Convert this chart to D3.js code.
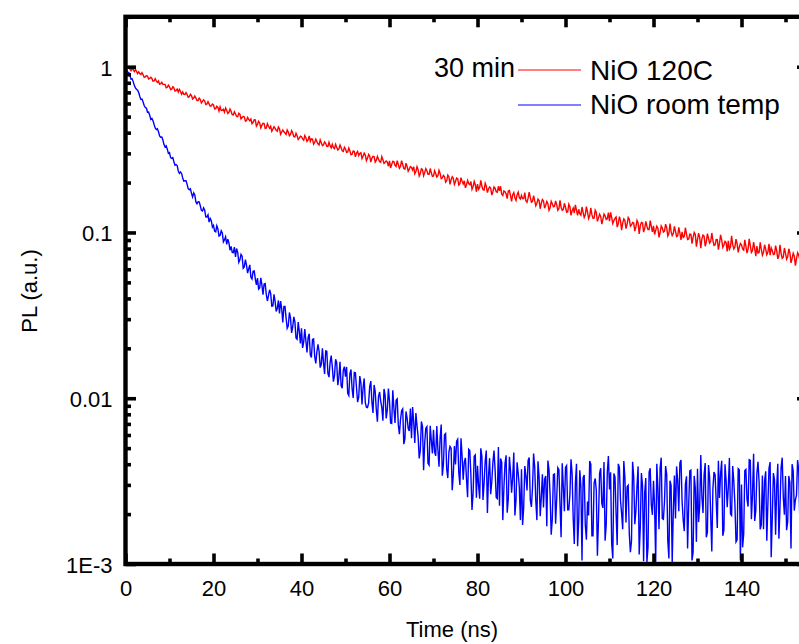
<!DOCTYPE html>
<html><head><meta charset="utf-8">
<script src="https://cdn.jsdelivr.net/npm/d3@7"></script>
<style>html,body{margin:0;padding:0;background:#fff}</style>
</head><body>
<svg id="chart" width="799" height="644"></svg>
<script>
// ---------- data ----------
const timeStep = 0.25; // ns between samples, series start at t = 0
const redName = "NiO 120C";
const blueName = "NiO room temp";
const annotationText = "30 min";
const xTitle = "Time (ns)";
const yTitle = "PL (a.u.)";
const xTicksMajor = [0, 20, 40, 60, 80, 100, 120, 140];
const xTicksMinor = [10, 30, 50, 70, 90, 110, 130, 150];
const yTicksMajor = [1, 0.1, 0.01, 0.001];
const yTickLabels = ["1", "0.1", "0.01", "1E-3"];
const yTicksMinor = [
  0.002,0.003,0.004,0.005,0.006,0.007,0.008,0.009,
  0.02,0.03,0.04,0.05,0.06,0.07,0.08,0.09,
  0.2,0.3,0.4,0.5,0.6,0.7,0.8,0.9,
  2];

const redValues = [
1.000,.978,.995,.990,.967,.945,.970,.961,.935,.963,.937,.909,.932,.908,.898,.920,.895,.863,.869,.884,
.876,.843,.850,.863,.849,.817,.820,.847,.822,.804,.820,.784,.790,.805,.783,.782,.782,.746,.751,.774,
.757,.728,.732,.756,.744,.713,.720,.732,.703,.730,.709,.682,.705,.681,.680,.697,.679,.654,.659,.681,
.669,.638,.646,.665,.646,.625,.625,.646,.634,.604,.617,.631,.621,.591,.595,.615,.597,.578,.581,.595,
.588,.557,.559,.578,.568,.539,.572,.544,.546,.554,.532,.564,.546,.523,.531,.555,.538,.514,.512,.535,
.518,.501,.499,.524,.516,.484,.494,.502,.498,.469,.474,.494,.481,.472,.483,.453,.462,.478,.477,.438,
.448,.468,.458,.427,.444,.456,.454,.424,.427,.453,.437,.425,.437,.408,.420,.435,.425,.414,.408,.433,
.422,.391,.404,.416,.405,.398,.390,.415,.403,.383,.390,.411,.399,.378,.377,.397,.383,.364,.371,.381,
.378,.367,.360,.384,.373,.354,.361,.382,.354,.367,.366,.341,.349,.365,.353,.343,.337,.362,.348,.334,
.338,.352,.345,.331,.330,.350,.334,.324,.340,.325,.320,.340,.327,.314,.319,.337,.325,.311,.308,.327,
.319,.304,.306,.323,.310,.294,.296,.310,.308,.286,.301,.308,.291,.300,.303,.279,.289,.301,.293,.271,
.280,.296,.289,.266,.281,.288,.287,.266,.273,.288,.277,.268,.265,.287,.275,.261,.265,.270,.266,.251,
.270,.245,.257,.269,.268,.254,.250,.271,.257,.244,.251,.271,.257,.243,.241,.262,.250,.234,.241,.250,
.247,.238,.249,.226,.233,.249,.239,.219,.227,.242,.239,.220,.230,.243,.236,.224,.224,.243,.229,.218,
.219,.236,.227,.216,.220,.237,.227,.211,.213,.221,.217,.201,.205,.222,.217,.195,.208,.217,.212,.195,
.203,.213,.211,.193,.197,.214,.204,.196,.205,.186,.194,.206,.197,.194,.203,.182,.189,.203,.194,.176,
.196,.182,.187,.206,.190,.181,.180,.198,.190,.174,.183,.188,.185,.168,.176,.188,.185,.176,.175,.190,
.178,.190,.170,.167,.178,.176,.171,.160,.178,.179,.167,.154,.169,.174,.162,.156,.169,.175,.162,.159,
.167,.160,.160,.174,.155,.152,.161,.175,.163,.152,.154,.167,.155,.145,.150,.159,.156,.139,.150,.158,
.155,.140,.146,.154,.149,.136,.141,.154,.149,.143,.144,.155,.147,.136,.139,.156,.142,.136,.138,.150,
.142,.1327,.133,.1481,.143,.1269,.135,.1402,.131,.1467,.136,.1270,.138,.1297,.127,.1425,.132,.1232,.128,.1431,
.133,.1213,.126,.1409,.128,.1217,.122,.1362,.132,.1167,.122,.1289,.125,.1123,.120,.1290,.126,.1199,.121,.1317,
.117,.1322,.123,.1132,.118,.1217,.124,.1078,.113,.1246,.118,.1034,.114,.1207,.118,.1055,.112,.1231,.120,.1092,
.111,.1150,.114,.1019,.108,.1182,.114,.0981,.110,.1150,.114,.1005,.106,.1166,.109,.1040,.104,.1180,.109,.1009,
.1096,.0972,.1030,.1092,.1060,.0935,.0996,.1095,.1063,.1006,.1020,.1123,.1068,.0953,.0985,.1133,.1012,.0957,.0984,.1087,
.1017,.0944,.0953,.1073,.0990,.0901,.1007,.0934,.0947,.1068,.0978,.0906,.0913,.0977,.0975,.0856,.0935,.1001,.0973,.0822,
.0905,.0991,.0934,.0805,.0916,.0964,.0951,.0826,.0877,.0983,.0923,.0862,.0881,.0993,.0896,.0835,.0843,.0906,.0905,.0788,
.0862,.0968,.0900,.0814,.0841,.0883,.0868,.0768,.0889,.0792,.0820,.0953,.0844,.0796,.0818,.0912,.0856,.0758,.0817,.0858,
.0841,.0796,.0783,.0902,.0826,.0751,.0797,.0914,.0832,.0757,.0777,.0875,.0799,.0720,.0827,.0752,.0756,.0873,.0791,.0729,
.0758,.0843,.0794,.0734,.0761,.0853,.0730,.0808,.0776,.0736,.0742,.0832,.0777,.0693,.0723,.0842,.0747,.0698,.0710,.0806,
.0751,.0690,.0714,.0797,.0753,.0656,.0697,.0749,.0719,.0630,.0694,.0754,.0730,.0685,.0694,.0776,.0670,.0746,.0708,.0599,
.0683];

const blueValues = [
1.000,.958,.926,.924,.887,.842,.845,.813,.772,.745,.731,.722,.698,.661,.634,.637,.612,.583,.567,.563,
.531,.532,.510,.481,.488,.472,.448,.427,.418,.422,.405,.382,.375,.376,.361,.339,.328,.333,.318,.300,
.303,.283,.280,.283,.267,.2545,.257,.2535,.235,.227,.232,.227,.213,.204,.205,.205,.195,.1836,.181,.1836,
.1722,.1638,.1735,.1685,.1528,.1488,.1532,.1530,.1450,.1360,.1348,.1407,.1361,.1243,.1240,.1278,.1155,.1215,.1179,.1077,
.1104,.1018,.1008,.1097,.1050,.0950,.0960,.1024,.0992,.0877,.0905,.0942,.0847,.0912,.0867,.0781,.0825,.0758,.0756,.0816,
.0713,.0800,.0759,.0660,.0684,.0737,.0719,.0609,.0620,.0685,.0636,.0568,.0603,.0637,.0537,.0524,.0583,.0586,.0525,.0483,
.0531,.0455,.0463,.0533,.0483,.0421,.0489,.0492,.0421,.0386,.0417,.0451,.0427,.0359,.0360,.0424,.0384,.0334,.0349,.0389,
.0325,.0385,.0347,.0287,.0358,.0358,.0304,.0264,.0273,.0329,.0305,.0248,.0269,.0310,.0289,.0231,.0227,.0288,.0253,.0214,
.0264,.0201,.0219,.0261,.0222,.0189,.0232,.0245,.0183,.0176,.0226,.0228,.0179,.0162,.0191,.0211,.0192,.0153,.0160,.0200,
.0164,.0140,.0193,.0192,.0141,.0134,.0164,.0181,.0155,.0126,.0137,.0172,.0164,.0120,.0134,.0166,.0119,.0115,.0148,.0155,
.0135,.01545,.0107,.01038,.0141,.0149,.0114,.01003,.0143,.01423,.0116,.00948,.0101,.01359,.0124,.00918,.0116,.01317,.0094,.00884,
.00879,.00934,.01176,.01268,.00951,.00814,.01203,.01097,.00854,.00722,.01024,.01090,.00961,.00881,.00732,.01137,.01044,.00755,.00850,.01144,
.00960,.00709,.00705,.01115,.00870,.00709,.00972,.00990,.00693,.00606,.00742,.00841,.00862,.00528,.00569,.00832,.00760,.00657,.00635,.00866,
.00573,.00884,.00722,.00537,.00814,.00683,.00591,.00433,.00483,.00724,.00675,.00368,.00537,.00659,.00674,.00405,.00395,.00681,.00558,.00465,
.00646,.00475,.00449,.00679,.00492,.00386,.00576,.00693,.00341,.00398,.00602,.00612,.00375,.00330,.00473,.00512,.00500,.00279,.00344,.00515,
.00398,.00551,.00566,.00355,.00300,.00573,.00448,.00322,.00413,.00437,.00325,.00253,.00492,.00484,.00343,.00212,.00268,.00447,.00455,.00251,
.00391,.00297,.00248,.00499,.00447,.00243,.00308,.00419,.00483,.00203,.00337,.00435,.00264,.00315,.00409,.00483,.00371,.00252,.00248,.00508,
.00225,.00433,.00412,.00184,.00287,.00403,.00453,.00204,.00247,.00444,.00365,.00269,.00334,.00471,.00196,.00243,.00411,.00353,.00291,.00184,
.00373,.00172,.00220,.00390,.00340,.00278,.00422,.00439,.00243,.00221,.00288,.00464,.00385,.00239,.00184,.00416,.00335,.00194,.00252,.00348,
.00219,.00325,.00340,.00169,.00421,.00371,.00261,.00150,.00186,.00346,.00349,.00175,.00247,.00381,.00371,.00231,.00145,.00405,.00295,.00208,
.00382,.00392,.00212,.00212,.00262,.00428,.00352,.00188,.00132,.00308,.00402,.00128,.00182,.00368,.00292,.00105,.00332,.00344,.00172,.00140,
.00238,.00196,.00418,.00400,.00148,.00148,.00308,.00328,.00278,.00112,.00188,.00352,.00378,.00232,.00218,.00412,.00138,.00172,.00358,.00448,
.00282,.00358,.00132,.00108,.00352,.00334,.00202,.00130,.00402,.00382,.00242,.00202,.00162,.00418,.00332,.00178,.00292,.00298,.00152,.00118,
.00138,.00414,.00338,.00174,.00208,.00294,.00388,.00114,.00168,.00354,.00298,.00104,.00268,.00330,.00103,.00126,.00358,.00378,.00228,.00198,
.00318,.00222,.00103,.00402,.00288,.00162,.00378,.00438,.00188,.00186,.00238,.00390,.00348,.00138,.00108,.00318,.00298,.00102,.00208,.00342,
.00188,.00388,.00318,.00208,.00408,.00424,.00238,.00184,.00158,.00304,.00338,.00124,.00228,.00364,.00368,.00105,.00118,.00340,.00288,.00136,
.00375,.00179,.00225,.00455,.00255,.00203,.00345,.00407,.00145,.00155,.00395,.00335,.00195,.00119,.00285,.00359,.00345,.00239,.00165,.00419,
.00250,.00352,.00420,.00148,.00160,.00400,.00320,.00220,.00290,.00436,.00200,.00196,.00390,.00316,.00230,.00136,.00140,.00376,.00370,.00105,
.00302,.00126,.00152,.00366,.00372,.00246,.00222,.00426,.00422,.00186,.00262,.00462,.00182,.00210,.00352,.00414,.00312,.00162,.00172,.00342,
.00162,.00318,.00362,.00138,.00232,.00378,.00412,.00110,.00192,.00354,.00322,.00150,.00292,.00402,.00142,.00222,.00382,.00438,.00252,.00198,
.00340,.00160,.00180,.00340,.00310,.00124,.00400,.00364,.00210,.00244,.00260,.00424,.00370,.00184,.00150,.00460,.00320,.00208,.00230,.00412,
.00290];

// ---------- layout ----------
const FONT = "'Liberation Sans', Arial, Helvetica, sans-serif";
const plotLeft = 125.5, plotRight = 807.5, plotTop = 16.8, plotBottom = 564;
const svg = d3.select("#chart");
svg.append("rect").attr("width", 799).attr("height", 644).attr("fill", "#fff");

const x = d3.scaleLinear().domain([0, 155]).range([plotLeft, plotRight]);
const y = d3.scaleLog().domain([0.001, 2]).range([plotBottom, plotTop]);

svg.append("defs").append("clipPath").attr("id", "plotclip")
  .append("rect").attr("x", plotLeft).attr("y", plotTop)
  .attr("width", plotRight - plotLeft).attr("height", plotBottom - plotTop);

const line = d3.line().x((d, i) => x(i * timeStep)).y(d => y(d));

const plot = svg.append("g").attr("clip-path", "url(#plotclip)");
plot.append("path").datum(redValues).attr("d", line)
  .attr("fill", "none").attr("stroke", "#ff0000").attr("stroke-width", 1.4);
plot.append("path").datum(blueValues).attr("d", line)
  .attr("fill", "none").attr("stroke", "#0000ff").attr("stroke-width", 1.4);

// ---------- axes ----------
function styleAxis(g) {
  g.select(".domain").remove();
  g.selectAll(".tick line").attr("stroke", "#000").attr("stroke-width", 3.6);
  g.selectAll(".tick text").attr("fill", "#000")
    .style("font-family", FONT).style("font-size", "22px");
}
const MAJ = 10.5, MIN = 5.5;

svg.append("g").attr("transform", `translate(0,${plotBottom})`)
  .call(d3.axisBottom(x).tickValues(xTicksMajor).tickSize(-MAJ).tickPadding(16)
    .tickFormat(d3.format("d"))).call(styleAxis);
svg.append("g").attr("transform", `translate(0,${plotBottom})`)
  .call(d3.axisBottom(x).tickValues(xTicksMinor).tickSize(-MIN).tickFormat(""))
  .call(styleAxis);
svg.append("g").attr("transform", `translate(0,${plotTop})`)
  .call(d3.axisTop(x).tickValues(xTicksMajor).tickSize(-MAJ).tickFormat(""))
  .call(styleAxis);
svg.append("g").attr("transform", `translate(0,${plotTop})`)
  .call(d3.axisTop(x).tickValues(xTicksMinor).tickSize(-MIN).tickFormat(""))
  .call(styleAxis);

svg.append("g").attr("transform", `translate(${plotLeft},0)`)
  .call(d3.axisLeft(y).tickValues(yTicksMajor).tickSize(-MAJ).tickPadding(13)
    .tickFormat((d, i) => yTickLabels[i])).call(styleAxis)
  .selectAll(".tick text").attr("dy", "0.38em");
svg.append("g").attr("transform", `translate(${plotLeft},0)`)
  .call(d3.axisLeft(y).tickValues(yTicksMinor).tickSize(-MIN).tickFormat(""))
  .call(styleAxis);
svg.append("g").attr("transform", `translate(${plotRight},0)`)
  .call(d3.axisRight(y).tickValues(yTicksMajor).tickSize(-MAJ).tickFormat(""))
  .call(styleAxis);
svg.append("g").attr("transform", `translate(${plotRight},0)`)
  .call(d3.axisRight(y).tickValues(yTicksMinor).tickSize(-MIN).tickFormat(""))
  .call(styleAxis);

// frame
svg.append("rect").attr("x", plotLeft).attr("y", plotTop)
  .attr("width", plotRight - plotLeft).attr("height", plotBottom - plotTop)
  .attr("fill", "none").attr("stroke", "#000").attr("stroke-width", 4.4);

// titles
svg.append("text").attr("x", 452).attr("y", 637).attr("text-anchor", "middle")
  .style("font-family", FONT).style("font-size", "22px").text(xTitle);
svg.append("text").attr("transform", "translate(37,291) rotate(-90)")
  .attr("text-anchor", "middle")
  .style("font-family", FONT).style("font-size", "22px").text(yTitle);

// legend
const legend = svg.append("g");
legend.append("text").attr("x", 434).attr("y", 77)
  .style("font-family", FONT).style("font-size", "27px").text(annotationText);
legend.append("line").attr("x1", 518).attr("x2", 581).attr("y1", 70).attr("y2", 70)
  .attr("stroke", "#ff0000").attr("stroke-width", 1);
legend.append("line").attr("x1", 518).attr("x2", 581).attr("y1", 105).attr("y2", 105)
  .attr("stroke", "#0000ff").attr("stroke-width", 1);
legend.append("text").attr("x", 590).attr("y", 80)
  .style("font-family", FONT).style("font-size", "28px").text(redName);
legend.append("text").attr("x", 590).attr("y", 114)
  .style("font-family", FONT).style("font-size", "28px").text(blueName);
</script>
</body></html>
